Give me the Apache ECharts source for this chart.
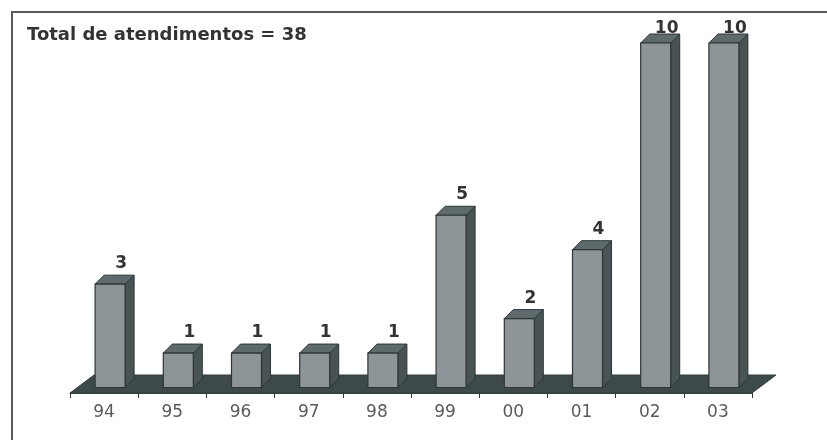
<!DOCTYPE html>
<html>
<head>
<meta charset="utf-8">
<script src="https://cdn.jsdelivr.net/npm/echarts@6/dist/echarts.min.js"></script>
<style>
  html, body { margin: 0; padding: 0; background: #ffffff; }
  #chart { width: 827px; height: 440px; }
</style>
</head>
<body>
<div id="chart"></div>
<script>
// Atendimentos por ano (1994 - 2003)
const categories = ['94', '95', '96', '97', '98', '99', '00', '01', '02', '03'];
const values = [3, 1, 1, 1, 1, 5, 2, 4, 10, 10];
const titleText = 'Total de atendimentos = 38';

const FONT = 'DejaVu Sans, Verdana, sans-serif';

// 3D look parameters (pixels)
const BAR_SHIFT = -9;     // front face left edge relative to category centre
const BAR_WIDTH = 30;     // front face width
const BAR_DX = 9;         // bar depth, horizontal
const BAR_DY = 9;         // bar depth, vertical
const BAR_LIFT = 5.5;     // bars stand this far behind the floor front edge
const FLOOR_DX = 24;      // floor depth, horizontal
const FLOOR_DY = 18;      // floor depth, vertical
const LABEL_MIN_Y = 37;   // value labels never go above this line

const chart = echarts.init(document.getElementById('chart'), null, { renderer: 'canvas' });

function renderFloor(params, api) {
  const band = api.size([1, 0])[0];
  const p0 = api.coord([0, 0]);
  const p1 = api.coord([categories.length - 1, 0]);
  const left = p0[0] - band / 2;
  const right = p1[0] + band / 2;
  const yf = p0[1];
  const yb = yf - FLOOR_DY;
  return {
    type: 'polygon',
    shape: { points: [[left, yf], [right, yf], [right + FLOOR_DX, yb], [left + FLOOR_DX, yb]] },
    style: { fill: '#3e4949', stroke: '#343f3f', lineWidth: 1 }
  };
}

function renderBar(params, api) {
  const idx = api.value(0);
  const val = api.value(1);
  const base = api.coord([idx, 0]);
  const top = api.coord([idx, val]);
  const fl = base[0] + BAR_SHIFT;
  const fr = fl + BAR_WIDTH;
  const y0 = base[1] - BAR_LIFT;
  const y1 = top[1] - BAR_LIFT;
  const edge = '#2c3636';
  return {
    type: 'group',
    children: [
      {
        type: 'polygon',
        shape: { points: [[fr, y1], [fr + BAR_DX, y1 - BAR_DY], [fr + BAR_DX, y0 - BAR_DY], [fr, y0]] },
        style: { fill: '#485354', stroke: edge, lineWidth: 1 }
      },
      {
        type: 'polygon',
        shape: { points: [[fl, y1], [fr, y1], [fr + BAR_DX, y1 - BAR_DY], [fl + BAR_DX, y1 - BAR_DY]] },
        style: { fill: '#5e6a6c', stroke: edge, lineWidth: 1 }
      },
      {
        type: 'rect',
        shape: { x: fl, y: y1, width: BAR_WIDTH, height: y0 - y1 },
        style: { fill: '#8e9599', stroke: edge, lineWidth: 1.2 }
      },
      {
        type: 'text',
        style: {
          text: String(val),
          x: (fl + fr) / 2 + 11,
          y: Math.max(y1 - BAR_DY - 3, LABEL_MIN_Y),
          align: 'center',
          verticalAlign: 'bottom',
          fill: '#333333',
          font: 'bold 17px ' + FONT
        }
      }
    ]
  };
}

chart.setOption({
  animation: false,
  backgroundColor: '#ffffff',
  title: {
    text: titleText,
    left: 22,
    top: 21,
    textStyle: { fontFamily: FONT, fontSize: 18, fontWeight: 'bold', color: '#333333' }
  },
  graphic: [
    {
      type: 'rect',
      shape: { x: 12, y: 12, width: 840, height: 460 },
      style: { fill: 'none', stroke: '#5a5a5a', lineWidth: 2 },
      z: 100
    }
  ],
  grid: { left: 70, right: 75, top: 48.5, bottom: 47 },
  xAxis: {
    type: 'category',
    data: categories,
    z: 10,
    axisLine: { show: true, lineStyle: { color: '#343f3f', width: 1 } },
    axisTick: { show: true, length: 5, lineStyle: { color: '#333333', width: 1 } },
    axisLabel: { color: '#5a5a5a', fontFamily: FONT, fontSize: 17, margin: 11 },
    splitLine: { show: false }
  },
  yAxis: {
    type: 'value',
    min: 0,
    max: 10,
    show: false,
    splitLine: { show: false }
  },
  series: [
    {
      type: 'custom',
      name: 'piso',
      data: [[0, 0]],
      renderItem: renderFloor,
      z: 1,
      silent: true
    },
    {
      type: 'custom',
      name: 'atendimentos',
      data: values.map((v, i) => [i, v]),
      encode: { x: 0, y: 1 },
      renderItem: renderBar,
      clip: false,
      z: 2
    }
  ]
});
</script>
</body>
</html>
